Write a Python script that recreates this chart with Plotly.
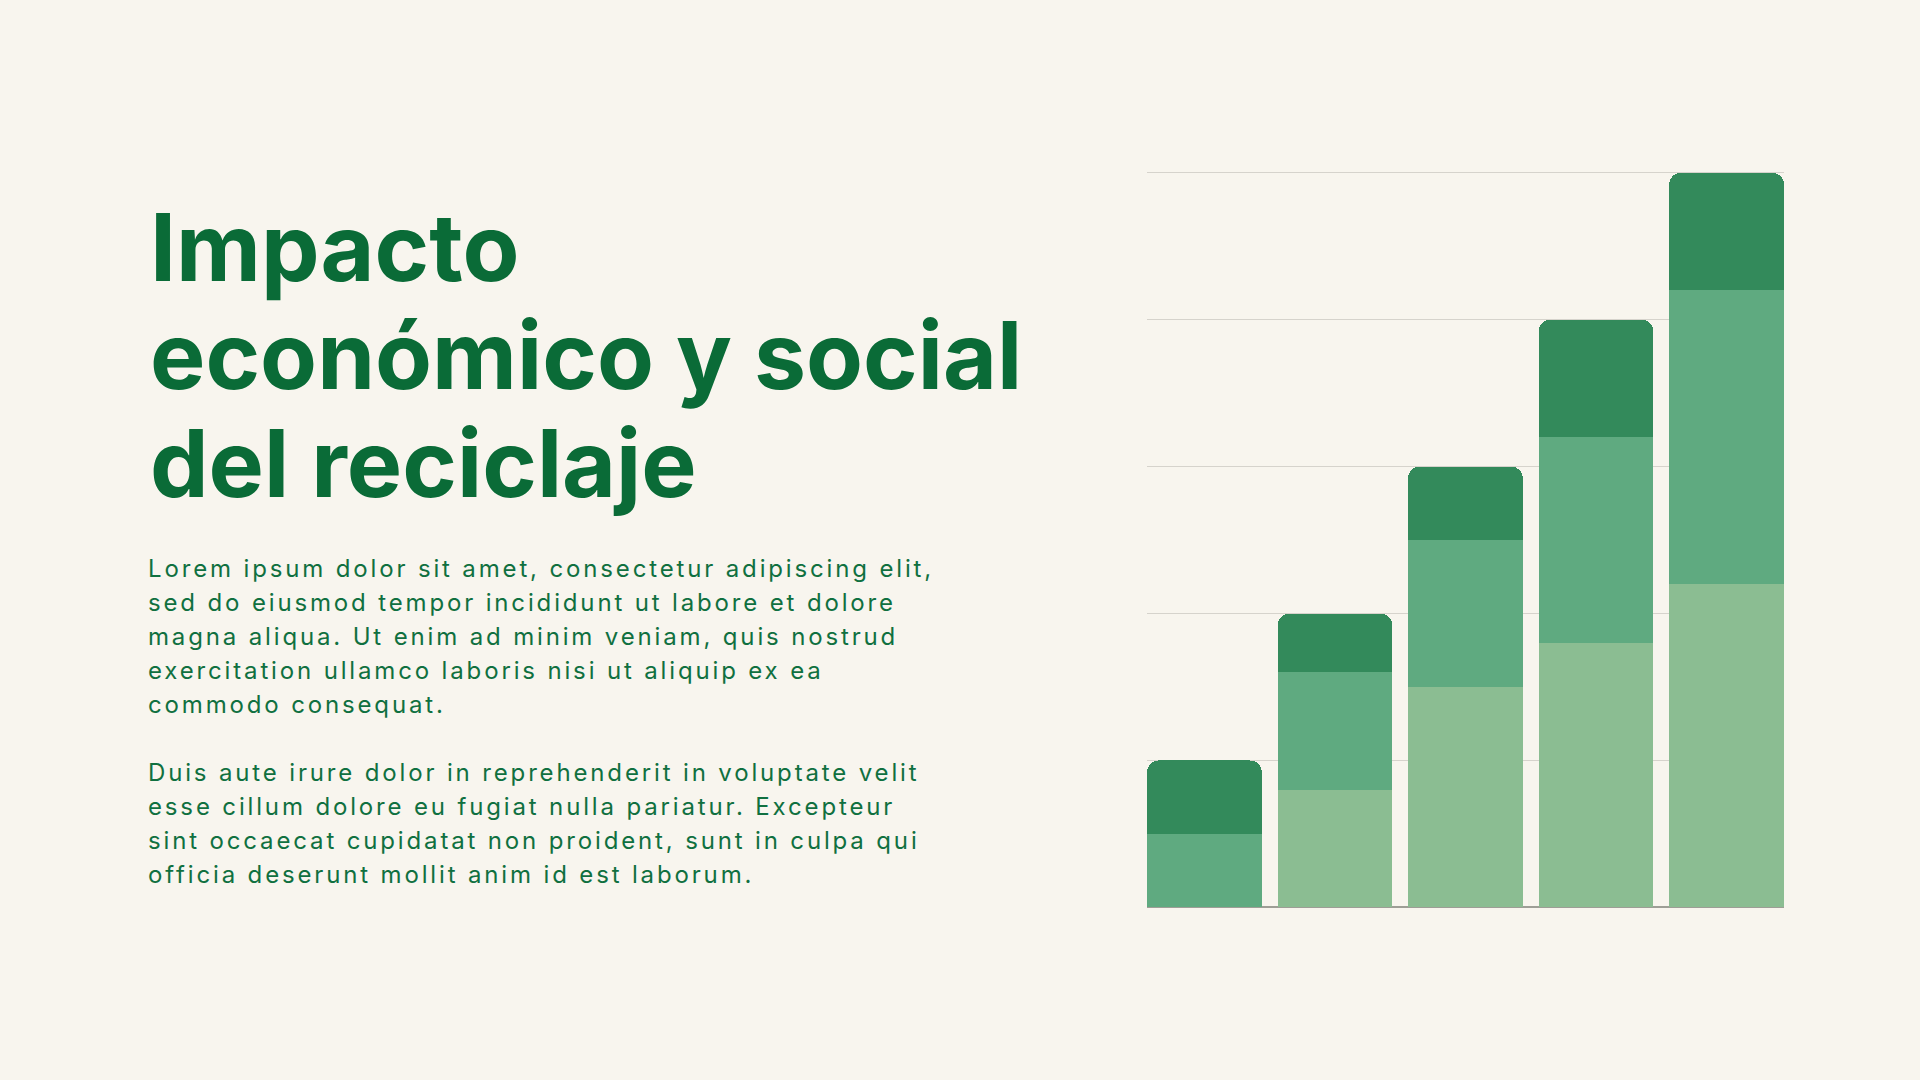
import plotly.graph_objects as go

# chart data (stack order bottom -> top)
periods = [0, 1, 2, 3, 4]
light_vals = [0.0, 0.8, 1.5, 1.8, 2.2]
mid_vals = [0.5, 0.8, 1.0, 1.4, 2.0]
dark_vals = [0.5, 0.4, 0.5, 0.8, 0.8]

title_lines = ["Impacto", "económico y social", "del reciclaje"]
para1 = [
    "Lorem ipsum dolor sit amet, consectetur adipiscing elit,",
    "sed do eiusmod tempor incididunt ut labore et dolore",
    "magna aliqua. Ut enim ad minim veniam, quis nostrud",
    "exercitation ullamco laboris nisi ut aliquip ex ea",
    "commodo consequat.",
]
para2 = [
    "Duis aute irure dolor in reprehenderit in voluptate velit",
    "esse cillum dolore eu fugiat nulla pariatur. Excepteur",
    "sint occaecat cupidatat non proident, sunt in culpa qui",
    "officia deserunt mollit anim id est laborum.",
]

W, H = 1920, 1080
BG = "#F8F5EE"
GREEN = "#0A6B37"
BODY = "#107040"

fig = go.Figure()
for vals, col in [(light_vals, "#8BBD92"), (mid_vals, "#5FAA80"), (dark_vals, "#338A5B")]:
    fig.add_trace(go.Bar(x=periods, y=vals, width=0.88, marker_color=col,
                         marker_line_width=0, hoverinfo="skip"))

fig.update_layout(
    width=W, height=H,
    paper_bgcolor=BG, plot_bgcolor=BG,
    margin=dict(l=0, r=0, t=0, b=0),
    barmode="stack",
    barcornerradius=12,
    showlegend=False,
)
# y range a little past 5 so the top gridline is drawn; domain stretched to match
y0_px, y5_px, ytop = 907.4, 172.7, 5.1
top_px = y0_px - (y0_px - y5_px) * ytop / 5
fig.update_xaxes(domain=[1147 / W, 1784 / W], range=[-0.44, 4.44],
                 showgrid=False, showticklabels=False, zeroline=False)
fig.update_yaxes(domain=[1 - y0_px / H, 1 - top_px / H], range=[0, ytop],
                 tickvals=[1, 2, 3, 4, 5], showgrid=True, gridcolor="#D6D3CC",
                 gridwidth=1, showticklabels=False, zeroline=True,
                 zerolinecolor="#9E9E96", zerolinewidth=1.5)

# title, one annotation per line so the leading can be set
title_base = [280, 388, 496]
for txt, yb in zip(title_lines, title_base):
    fig.add_annotation(text=txt, xref="paper", yref="paper", x=148 / W,
                       y=1 - (yb - 0.36 * 93) / H, xanchor="left", yanchor="middle",
                       align="left", showarrow=False,
                       font=dict(family="Inter", size=93, color=GREEN, weight=700))

body_base = [576, 610, 644, 678, 712, 780, 814, 848, 882]
for txt, yb in zip(para1 + para2, body_base):
    fig.add_annotation(text=txt, xref="paper", yref="paper", x=146 / W,
                       y=1 - (yb - 0.30 * 24) / H, xanchor="left", yanchor="middle",
                       align="left", showarrow=False,
                       font=dict(family="Inter", size=24, color=BODY))

# full-bleed page and the wide tracking of the body copy
post = """
document.body.style.margin = '0';
document.body.style.overflow = 'hidden';
var gd = document.getElementById('{plot_id}');
function track() {
  gd.querySelectorAll('.annotation-text').forEach(function (t) {
    if (parseFloat(t.style.fontSize) < 40) { t.style.letterSpacing = '2.85px'; }
  });
}
track();
gd.on('plotly_afterplot', track);
setTimeout(track, 50);
"""
fig.write_html("out.html", post_script=post, config={"displayModeBar": False})
